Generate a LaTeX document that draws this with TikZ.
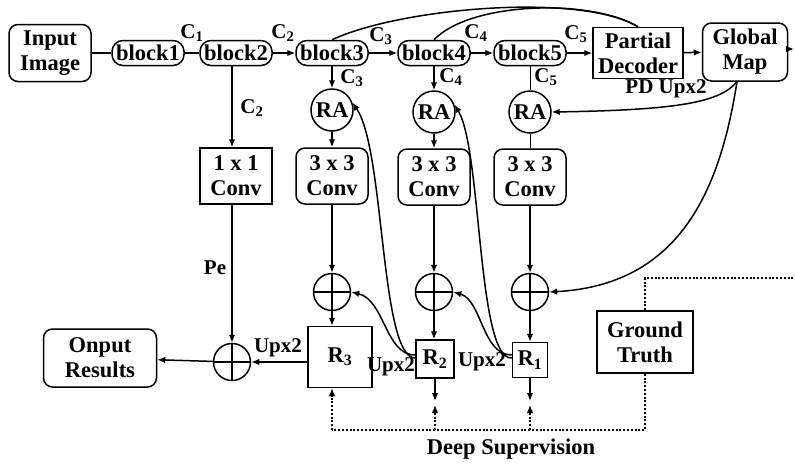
\documentclass[tikz,border=0pt]{standalone}
\usepackage{fontspec}
\setmainfont{Liberation Serif}
\usetikzlibrary{arrows.meta,calc}
\begin{document}
\begin{tikzpicture}[x=1pt,y=-1pt, line width=1.5pt,
  font=\fontsize{22.5}{25}\selectfont\bfseries,
  arr/.style={-{Latex[length=8pt,width=6.5pt]}},
  rbox/.style={draw, rounded corners=9pt, align=center, inner sep=0pt},
  sbox/.style={draw, align=center, inner sep=0pt},
  blk/.style={draw, rounded corners=11pt, minimum width=72pt, minimum height=25pt, inner sep=0pt},
  ra/.style={draw, circle, minimum size=42pt, inner sep=0pt},
  plus/.style={draw, circle, minimum size=37pt, inner sep=0pt,
    path picture={\draw (path picture bounding box.north) -- (path picture bounding box.south)
      (path picture bounding box.west) -- (path picture bounding box.east);}},
  lab/.style={font=\fontsize{21}{23}\selectfont\bfseries, inner sep=0pt},
  dot/.style={dash pattern=on 2pt off 1.8pt, line width=1.3pt},
  thinline/.style={line width=0.9pt}]

\useasboundingbox (0,0) rectangle (795,464);

% top row
\node[rbox, minimum width=82pt, minimum height=57pt] (in) at (50,53) {Input\\Image};
\node[blk] (b1) at (148,53) {block1};
\node[blk] (b2) at (236,53) {block2};
\node[blk] (b3) at (332,53) {block3};
\node[blk] (b4) at (434,53) {block4};
\node[blk] (b5) at (530,53) {block5};
\node[sbox, minimum width=90pt, minimum height=51pt] (pd) at (638,53) {Partial\\Decoder};
\node[rbox, minimum width=85pt, minimum height=58pt] (gm) at (745,52) {Global\\Map};
\coordinate (gmo) at (794,49);

% column nodes
\node[sbox, minimum width=72pt, minimum height=56pt] (c1) at (236,176) {1 x 1\\Conv};
\node[ra] (ra3) at (332,110) {RA};
\node[ra] (ra4) at (434,112) {RA};
\node[ra] (ra5) at (530,112) {RA};
\node[rbox, minimum width=72pt, minimum height=56pt] (cv3) at (332,176) {3 x 3\\Conv};
\node[rbox, minimum width=72pt, minimum height=56pt] (cv4) at (434,177) {3 x 3\\Conv};
\node[rbox, minimum width=72pt, minimum height=56pt] (cv5) at (530,177) {3 x 3\\Conv};
\node[plus] (p3) at (332,292) {};
\node[plus] (p4) at (434,292) {};
\node[plus] (p5) at (530,292) {};
\node[sbox, minimum width=64pt, minimum height=61pt] (r3) at (340,357) {R\textsubscript{3}};
\node[sbox, minimum width=38pt, minimum height=38pt] (r2) at (435,359) {R\textsubscript{2}};
\node[sbox, minimum width=35pt, minimum height=35pt] (r1) at (530,360) {R\textsubscript{1}};
\node[plus] (po) at (232,362) {};
\node[rbox, minimum width=113pt, minimum height=58pt] (out) at (100,358) {Onput\\Results};
\node[sbox, minimum width=96pt, minimum height=62pt] (gt) at (645,342) {Ground\\Truth};

% top row connectors
\draw (in) -- (b1);
\draw (b1) -- (b2);
\draw[arr] (b2) -- (b3);
\draw[arr] (b3) -- (b4);
\draw[arr] (b4) -- (b5);
\draw[arr] (b5) -- (pd);
\draw[arr] (pd) -- (gm);
\draw[arr] (gm.east |- gmo) -- (gmo);
\draw (b3.north) .. controls (400,8) and (580,-8) .. (pd.north);
\draw (b4.north) .. controls (470,2) and (590,-2) .. (pd.north);

% column 2
\draw[arr] (b2.south -| po) -- (c1.north -| po);
\draw[arr] (c1.south -| po) -- (po);
\draw[arr] (r3.west |- po) -- (po);
\draw[arr] (po) -- (out);

% column 3
\draw[arr] (b3) -- (ra3);
\draw[arr] (ra3) -- (cv3);
\draw[arr] (cv3) -- (p3);
\draw[arr] (p3) -- (p3 |- r3.north);

% column 4
\draw[arr] (b4) -- (ra4);
\draw[arr] (ra4) -- (cv4);
\draw[arr] (cv4) -- (p4);
\draw[arr] (p4) -- (p4 |- r2.north);

% column 5
\draw[thinline] (b5) -- (ra5);
\draw[thinline] (ra5) -- (cv5);
\draw[arr] (cv5) -- (p5);
\draw[arr] (p5) -- (r1);

% global map curves
\draw[arr] ([xshift=-8pt]gm.south) .. controls (720,102) and (680,110) .. (ra5.east);
\draw[arr] ([xshift=-8pt]gm.south) .. controls (720,190) and (680,285) .. (p5.east);

% feedback curves
\draw[arr] ([yshift=1pt]r2.west) .. controls (380,358) and (385,150) .. (ra3.20);
\draw[arr] ([yshift=4pt]r2.west) .. controls (385,355) and (385,300) .. (p3.east);
\draw[arr] ([yshift=2pt]r1.west) .. controls (477,360) and (482,150) .. (ra4.20);
\draw[arr] ([yshift=5pt]r1.west) .. controls (482,355) and (482,300) .. (p4.east);

% outputs and deep supervision
\coordinate (o2) at (435,401);
\coordinate (e2) at (435,405);
\coordinate (d2) at (435,430);
\coordinate (o1) at (530,401);
\coordinate (e1) at (530,405);
\coordinate (d1) at (530,430);
\draw[arr] (r2) -- (o2);
\draw[arr] (r1) -- (o1);
\coordinate (dt) at (645,278);
\coordinate (dr) at (795,278);
\coordinate (db) at (645,430);
\coordinate (dl) at (332,430);
\draw[dot] (gt.north) -- (dt) -- (dr);
\draw[dot] (gt.south) -- (db) -- (dl);
\draw[dot,arr] (dl) -- (dl |- r3.south);
\draw[dot,arr] (d2) -- (e2);
\draw[dot,arr] (d1) -- (e1);

% labels
\node[lab] (lc1) at (192,33) {C\textsubscript{1}};
\node[lab] (lc2) at (283,33) {C\textsubscript{2}};
\node[lab] (lc3) at (381,36) {C\textsubscript{3}};
\node[lab] (lc4) at (476,33) {C\textsubscript{4}};
\node[lab] (lc5) at (576,34) {C\textsubscript{5}};
\node[lab] (sc2) at (252,108) {C\textsubscript{2}};
\node[lab] (sc3) at (352,78) {C\textsubscript{3}};
\node[lab] (sc4) at (451,77) {C\textsubscript{4}};
\node[lab] (sc5) at (546,77) {C\textsubscript{5}};
\node[lab] (pe) at (215,268) {Pe};
\node[lab] (u3) at (278,348) {Upx2};
\node[lab] (u2) at (391,367) {Upx2};
\node[lab] (u1) at (482,362) {Upx2};
\node[lab] (pdu) at (666,89) {PD Upx2};
\node (ds) at (511,449) {Deep Supervision};
\end{tikzpicture}
\end{document}
